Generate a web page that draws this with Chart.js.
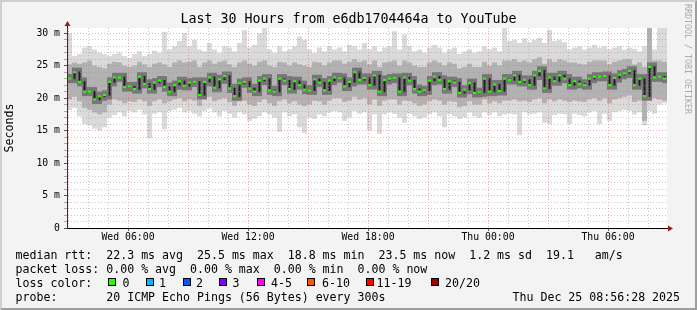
<!DOCTYPE html>
<html>
<head>
<meta charset="utf-8">
<script src="https://cdn.jsdelivr.net/npm/chart.js@4.4.1/dist/chart.umd.min.js"></script>
<style>
  body { margin: 0; background: #f3f3f3; }
  #frame {
    position: absolute; left: 0; top: 0; width: 697px; height: 310px;
    box-sizing: border-box; background: #f3f3f3;
    border: 2px solid; border-color: #cfcfcf #9e9e9e #9e9e9e #cfcfcf;
  }
  canvas { position: absolute; left: 0; top: 0; }
  .t {
    position: absolute; font-family: "DejaVu Sans Mono", monospace;
    white-space: pre; color: #000; font-size: 11.6px; line-height: 14px;
  }
  .box {
    position: absolute; width: 6px; height: 6px; border: 1px solid #000; top: 278px;
  }
  #title { left: 0; width: 697px; text-align: center; top: 11px; font-size: 13.3px; line-height: 16px; }
  #rrd {
    left: 682.5px; top: 4px; font-size: 8.3px; line-height: 10px;
    writing-mode: vertical-rl; color: #ababab;
  }
</style>
</head>
<body>
<div id="frame"></div>
<canvas id="myChart" width="697" height="310"></canvas>

<div class="t" id="title">Last 30 Hours from e6db1704464a to YouTube</div>
<div class="t" id="rrd">RRDTOOL / TOBI OETIKER</div>

<div class="t" style="left:15.5px; top:247.5px;">median rtt:  22.3 ms avg  25.5 ms max  18.8 ms min  23.5 ms now  1.2 ms sd  19.1   am/s</div>
<div class="t" style="left:15.5px; top:261.5px;">packet loss: 0.00 % avg  0.00 % max  0.00 % min  0.00 % now</div>
<div class="t" style="left:15.5px; top:275.5px;">loss color:</div>
<div id="loss"></div>
<div class="t" style="left:15.5px; top:289.5px;">probe:       20 ICMP Echo Pings (56 Bytes) every 300s</div>
<div class="t" style="left:512.5px; top:289.5px;">Thu Dec 25 08:56:28 2025</div>

<script>
// 30 hours, one bar per 15 minutes, starting Wed 02:57
const startClock = 2 + 57 / 60;
const binHours = 0.25;

const medianMs = [
  23.0, 24.0, 22.5, 21.0, 21.0, 19.8, 20.3, 20.5, 22.5, 23.2, 23.2, 21.7, 21.8, 21.4, 23.3, 22.2, 21.4, 22.4, 22.7,
  21.7, 21.0, 22.0, 22.6, 21.9, 22.4, 22.5, 20.5, 22.5, 23.2, 21.6, 22.9, 23.4, 21.5, 20.3, 22.3, 22.5, 21.5, 21.0, 22.7, 23.0,
  21.2, 21.0, 23.0, 22.7, 21.4, 22.6, 22.0, 21.3, 21.2, 22.9, 22.4, 21.2, 22.7, 23.2, 23.1, 21.8, 22.5, 24.0, 22.8, 23.1,
  22.0, 23.5, 21.0, 22.8, 23.0, 23.1, 21.0, 23.2, 22.7, 21.4, 21.0, 21.2, 22.7, 23.3, 22.8, 21.4, 22.6, 22.4, 20.8, 21.3,
  22.3, 20.8, 20.9, 23.0, 21.0, 22.1, 21.1, 23.0, 22.8, 23.5, 22.5, 22.8, 22.0, 23.5, 24.2, 21.5, 23.2, 22.6, 23.5, 23.0,
  22.0, 22.6, 22.2, 22.0, 23.0, 23.3, 23.3, 23.4, 22.0, 23.1, 23.6, 23.8, 24.2, 22.0, 23.0, 20.3, 24.8, 23.2, 23.3, 23.0
];
const maxMs = [
  30.0, 26.5, 26.8, 27.8, 28.0, 27.5, 27.0, 26.8, 26.5, 26.8, 27.0, 26.5, 26.2, 26.8, 27.2, 26.5, 26.8, 27.3, 27.0,
  30.2, 27.5, 28.0, 28.8, 30.0, 28.0, 29.0, 27.5, 27.2, 28.5, 27.5, 27.0, 28.0, 27.8, 27.2, 28.5, 30.5, 27.8, 28.2, 30.0, 30.8,
  27.5, 27.0, 28.0, 27.2, 27.5, 28.0, 29.5, 29.0, 27.5, 27.0, 27.8, 27.2, 28.0, 27.5, 27.8, 27.2, 28.2, 28.0, 27.5, 28.5,
  27.5, 28.0, 27.2, 27.8, 28.0, 30.3, 27.5, 29.8, 28.0, 27.2, 27.5, 27.0, 27.8, 28.2, 27.8, 27.0, 27.5, 27.8, 26.8, 27.2,
  27.5, 27.0, 27.2, 28.0, 27.5, 27.8, 27.2, 30.8, 28.8, 29.0, 28.5, 29.2, 28.6, 29.0, 29.3, 28.5, 30.5, 28.8, 29.0, 28.6,
  27.5, 27.8, 28.0, 27.5, 27.8, 28.2, 27.8, 28.0, 27.5, 27.8, 28.0, 27.5, 27.8, 27.6, 27.2, 28.0, 30.8, 27.5, 30.8, 30.8
];
const upperMs = [
  25.2, 25.5, 25.3, 25.5, 25.8, 25.0, 24.8, 24.6, 25.3, 25.6, 25.5, 25.0, 24.8, 25.0, 25.6, 25.2, 24.8, 25.3, 25.5,
  25.2, 24.8, 25.5, 25.8, 25.5, 25.6, 25.8, 24.8, 25.5, 25.8, 25.3, 25.6, 25.8, 25.2, 24.8, 25.5, 25.8, 25.3, 25.0, 25.6, 25.8,
  25.0, 24.8, 25.6, 25.5, 25.0, 25.5, 25.2, 25.0, 24.8, 25.6, 25.5, 25.0, 25.5, 25.8, 25.8, 25.3, 25.6, 26.0, 25.6, 25.8,
  25.2, 25.8, 24.8, 25.5, 25.6, 25.8, 25.0, 25.8, 25.5, 25.0, 24.8, 24.8, 25.5, 25.8, 25.5, 25.0, 25.5, 25.3, 24.6, 24.8,
  25.3, 24.8, 24.8, 25.6, 25.0, 25.5, 25.0, 25.8, 25.8, 26.0, 25.6, 25.8, 25.5, 26.0, 26.3, 25.3, 26.0, 25.6, 26.0, 25.8,
  25.5, 25.5, 25.3, 25.2, 25.6, 25.8, 25.8, 25.8, 25.2, 25.6, 25.8, 26.0, 26.0, 25.2, 25.5, 24.8, 30.8, 25.8, 25.8, 25.6
];
const lowerMs = [
  19.8, 20.2, 19.5, 18.5, 18.2, 17.8, 17.5, 17.8, 19.0, 19.8, 19.6, 19.2, 19.5, 19.4, 19.8, 19.5, 18.8, 19.5, 19.8,
  19.2, 19.5, 19.8, 20.0, 19.5, 19.8, 19.6, 18.8, 19.8, 20.2, 19.5, 19.8, 20.0, 19.4, 18.8, 19.5, 19.6, 19.0, 18.8, 19.4, 19.8,
  19.2, 18.8, 19.5, 19.8, 19.2, 19.5, 19.0, 18.8, 19.0, 19.6, 19.5, 19.0, 19.6, 20.0, 20.0, 19.4, 19.6, 20.2, 19.8, 20.0,
  19.0, 19.8, 18.8, 19.6, 19.8, 19.8, 19.0, 19.6, 19.5, 19.2, 18.8, 19.0, 19.5, 19.8, 19.6, 19.0, 19.5, 19.4, 18.6, 18.8,
  19.5, 19.0, 19.0, 19.8, 19.2, 19.5, 19.2, 19.6, 19.6, 19.8, 19.5, 19.6, 19.4, 19.8, 20.0, 19.2, 19.8, 19.5, 19.8, 19.6,
  19.4, 19.6, 19.5, 19.4, 19.8, 20.0, 19.6, 20.0, 19.2, 19.8, 20.0, 20.2, 20.4, 19.4, 19.6, 16.5, 20.0, 20.0, 19.8, 19.6
];
const minMs = [
  18.2, 18.5, 17.2, 16.0, 15.8, 15.3, 15.0, 15.5, 17.0, 17.4, 17.8, 17.2, 18.0, 17.8, 18.2, 17.5, 13.8, 17.6, 17.8,
  15.2, 18.0, 18.2, 18.5, 17.8, 18.0, 17.6, 17.2, 18.0, 18.4, 17.8, 17.2, 18.0, 17.6, 17.0, 17.8, 17.5, 16.5, 16.8, 17.2, 17.8,
  17.5, 17.0, 14.8, 17.8, 17.2, 17.5, 15.5, 14.6, 17.0, 16.8, 17.5, 17.2, 17.8, 18.0, 17.8, 16.5, 17.0, 18.0, 17.6, 17.8,
  15.0, 17.5, 14.5, 17.5, 17.8, 17.6, 17.0, 16.2, 17.6, 17.2, 16.8, 17.0, 17.5, 17.8, 17.2, 15.5, 17.5, 17.2, 16.8, 17.0,
  17.8, 17.2, 17.0, 17.8, 17.4, 17.8, 17.2, 17.5, 17.6, 17.5, 14.3, 17.8, 17.5, 17.6, 17.8, 16.2, 16.0, 17.4, 17.6, 17.5,
  16.0, 17.6, 17.4, 17.2, 17.8, 18.0, 16.0, 17.6, 16.5, 17.8, 18.0, 18.2, 18.0, 17.5, 17.8, 15.8, 18.0, 17.6, 19.0, 19.2
];

const xTickClock = [6, 12, 18, 24, 30];
const xTickLabels = ['Wed 06:00', 'Wed 12:00', 'Wed 18:00', 'Thu 00:00', 'Thu 06:00'];
const yTickLabels = ['0', '5 m', '10 m', '15 m', '20 m', '25 m', '30 m'];

const lossLabels = ['0', '1', '2', '3', '4-5', '6-10', '11-19', '20/20'];
const lossColors = ['#26ff00', '#00b8ff', '#0059ff', '#7e00ff', '#ff00ff', '#ff5500', '#ff0000', '#a10000'];

// legend boxes for the loss colours
const boxLeft = [108, 145.5, 182.5, 219, 256.5, 306.5, 365.5, 430.5];
const textLeft = [122.5, 159, 196, 232.5, 271, 322, 376.5, 445];
const lossDiv = document.getElementById('loss');
lossLabels.forEach((l, i) => {
  const b = document.createElement('div');
  b.className = 'box';
  b.style.left = boxLeft[i] + 'px';
  b.style.background = lossColors[i];
  lossDiv.appendChild(b);
  const t = document.createElement('div');
  t.className = 't';
  t.style.left = textLeft[i] + 'px';
  t.style.top = '275.5px';
  t.textContent = l;
  lossDiv.appendChild(t);
});

const xAt = i => (i + 0.5) * binHours;
const band = (lo, hi) => lo.map((v, i) => ({ x: xAt(i), y: [v, hi[i]] }));
const prevMed = medianMs.map((v, i) => (i ? medianMs[i - 1] : v));
const core = pad => medianMs.map((v, i) => ({
  x: xAt(i),
  y: [Math.min(v, prevMed[i]) - pad, Math.max(v, prevMed[i]) + pad],
}));

const barOpts = { type: 'bar', grouped: false, barPercentage: 1, categoryPercentage: 1, borderWidth: 0, inflateAmount: 0 };

const mono = 'DejaVu Sans Mono';

const plotBack = {
  id: 'plotBack',
  beforeDraw(chart) {
    const a = chart.chartArea;
    chart.ctx.save();
    chart.ctx.fillStyle = '#ffffff';
    chart.ctx.fillRect(a.left, a.top, a.right - a.left, a.bottom - a.top);
    chart.ctx.restore();
  },
};

const arrows = {
  id: 'arrows',
  afterDraw(chart) {
    const ctx = chart.ctx;
    const a = chart.chartArea;
    const x0 = a.left + 0.5;
    const y0 = a.bottom + 0.5;
    ctx.save();
    ctx.strokeStyle = '#000';
    ctx.lineWidth = 1;
    ctx.beginPath();
    ctx.moveTo(x0, a.top);
    ctx.lineTo(x0, a.top - 3);
    ctx.moveTo(a.right, y0);
    ctx.lineTo(a.right + 3, y0);
    ctx.stroke();
    ctx.fillStyle = '#9b1c1c';
    ctx.beginPath();
    ctx.moveTo(x0, a.top - 7);
    ctx.lineTo(x0 - 3, a.top - 2);
    ctx.lineTo(x0 + 3, a.top - 2);
    ctx.closePath();
    ctx.fill();
    ctx.beginPath();
    ctx.moveTo(a.right + 6, y0);
    ctx.lineTo(a.right + 1, y0 - 3);
    ctx.lineTo(a.right + 1, y0 + 3);
    ctx.closePath();
    ctx.fill();
    ctx.restore();
  },
};

const ctx = document.getElementById('myChart').getContext('2d');
const myChart = new Chart(ctx, {
  type: 'bar',
  data: {
    datasets: [
      { ...barOpts, data: band(minMs, maxMs), backgroundColor: '#dadada', order: 5 },
      { ...barOpts, data: band(lowerMs, upperMs), backgroundColor: '#b2b2b2', order: 4 },
      { ...barOpts, data: core(0.7), backgroundColor: '#767676', order: 3 },
      { ...barOpts, data: core(0.1), backgroundColor: '#1e1e1e', barPercentage: 0.4, order: 2 },
      {
        ...barOpts,
        data: medianMs.map((v, i) => ({ x: xAt(i), y: [v - 0.17, v + 0.17] })),
        backgroundColor: '#26ff00',
        barPercentage: 0.6,
        order: 1,
      },
    ],
  },
  options: {
    responsive: false,
    animation: false,
    events: [],
    layout: { padding: { left: 0, right: 30, top: 28, bottom: 0 } },
    plugins: {
      legend: { display: false },
      tooltip: { enabled: false },
    },
    scales: {
      x: {
        type: 'linear',
        min: 0,
        max: 30,
        offset: false,
        afterFit: (s) => { s.height = 82; },
        afterBuildTicks: (s) => {
          const t = [];
          for (let h = 3; h <= 32; h++) t.push({ value: h - startClock });
          s.ticks = t;
        },
        ticks: {
          autoSkip: false,
          maxRotation: 0,
          padding: 1,
          color: '#000',
          font: { family: mono, size: 9.8 },
          callback: function (value) {
            const h = Math.round(value + startClock);
            const k = xTickClock.indexOf(h);
            return k >= 0 ? xTickLabels[k] : '';
          },
        },
        grid: {
          offset: false,
          z: 1,
          tickLength: 3,
          color: (c) => {
            const h = Math.round(c.tick.value + startClock);
            return h % 3 === 0 ? 'rgba(230, 70, 70, 0.45)' : 'rgba(150, 150, 150, 0.5)';
          },
          tickColor: (c) => {
            const h = Math.round(c.tick.value + startClock);
            return h % 6 === 0 ? '#666' : 'rgba(0,0,0,0)';
          },
        },
        border: { display: true, color: '#000', width: 1, dash: [1, 2], z: 2 },
      },
      y: {
        type: 'linear',
        min: 0,
        max: 30.8,
        afterFit: (s) => { s.width = 67; },
        afterBuildTicks: (s) => {
          s.ticks = Array.from({ length: 31 }, (_, v) => ({ value: v }));
        },
        title: {
          display: true,
          text: 'Seconds',
          color: '#000',
          font: { family: mono, size: 11.6 },
          padding: { top: 3, bottom: 0 },
        },
        ticks: {
          autoSkip: false,
          padding: 4,
          color: '#000',
          font: { family: mono, size: 9.8 },
          callback: function (value) {
            return value % 5 === 0 ? yTickLabels[value / 5] : '';
          },
        },
        grid: {
          z: 1,
          tickLength: 3,
          color: (c) => {
            const v = c.tick.value;
            if (v === 0) return 'rgba(0,0,0,0)';
            return v % 5 === 0 ? 'rgba(230, 70, 70, 0.45)' : 'rgba(150, 150, 150, 0.5)';
          },
          tickColor: (c) => (c.tick.value % 5 === 0 ? '#555' : '#aaa'),
        },
        border: { display: true, color: '#333', width: 1, dash: [1, 2], z: 2 },
      },
    },
  },
  plugins: [plotBack, arrows],
});
</script>
</body>
</html>
